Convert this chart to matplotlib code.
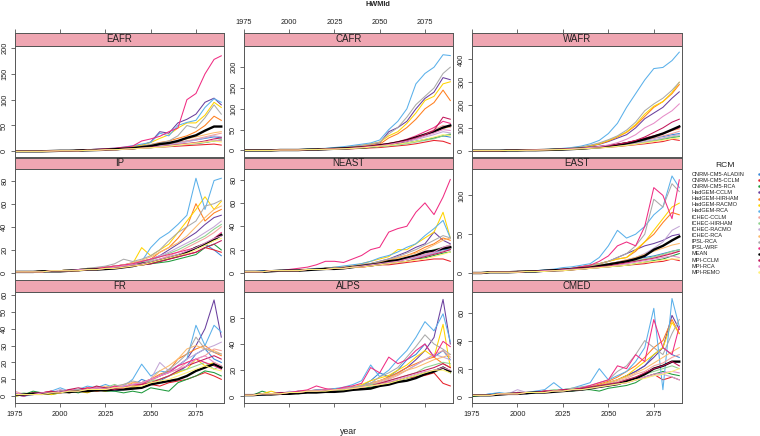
import matplotlib
matplotlib.use("Agg")
import matplotlib.pyplot as plt

plt.rcParams['font.family'] = ['Liberation Sans', 'DejaVu Sans']

YEARS = [1975, 1980, 1985, 1990, 1995, 2000, 2005, 2010, 2015, 2020, 2025, 2030,
         2035, 2040, 2045, 2050, 2055, 2060, 2065, 2070, 2075, 2080, 2085, 2089]

RCMS = ["CNRM-CM5-ALADIN", "CNRM-CM5-CCLM", "CNRM-CM5-RCA", "HadGEM-CCLM",
        "HadGEM-HIRHAM", "HadGEM-RACMO", "HadGEM-RCA", "ICHEC-CCLM",
        "ICHEC-HIRHAM", "ICHEC-RACMO", "ICHEC-RCA", "IPSL-RCA", "IPSL-WRF",
        "MEAN", "MPI-CCLM", "MPI-RCA", "MPI-REMO"]

COLORS = ['#3A87D8', '#E8202A', '#1E9A3C', '#6A3F9E', '#FF7F1E', '#FFD400',
          '#5AB0EA', '#F4A19A', '#8ED28E', '#C3A6D6', '#FDBA6B', '#AAAAAA',
          '#F02C82', '#000000', '#C2185B', '#E68CC8', '#FFF176']

EAFR = [
    [0,0,0,0,0.5,1,1,2,2,3,3,4,5,7,9,11,13,15,17,20,22,25,28,26],
    [0,0,0,0,0.5,1,1,1,2,2,3,3,4,5,6,7,8,9,10,11,12,13,14,12],
    [0,0,0,0,0.5,1,1,1,2,2,3,3,4,5,6,7,9,10,12,14,15,17,20,22],
    [0,0,0,0,0.5,1,1,2,3,3,4,5,7,9,12,18,38,35,55,62,72,95,103,90],
    [0,0,0,0,0.5,1,1,2,2,3,4,5,6,8,10,13,17,20,25,30,38,50,68,60],
    [0,0,0,0,0.5,1,1,2,3,3,4,5,7,9,12,17,25,32,45,55,55,70,95,85],
    [0,0,0,0,0.5,1,1,2,3,4,5,6,8,11,14,17,35,30,50,56,60,85,102,95],
    [0,0,0,0,0.5,1,1,1,2,2,3,4,5,6,8,10,12,14,17,20,24,28,32,35],
    [0,0,0,0,0.5,1,1,1,2,2,3,3,4,5,6,7,8,10,12,14,16,18,20,22],
    [0,0,0,0,0.5,1,1,1,2,2,3,4,5,6,7,9,11,13,15,18,22,26,30,28],
    [0,0,0,0,0.5,1,1,2,2,3,3,4,5,7,9,11,13,16,20,24,28,32,36,38],
    [0,0,0,0,0.5,1,1,2,2,3,4,5,6,8,10,13,16,20,30,50,45,65,90,72],
    [0,0,0,0,0.5,1,1,2,3,4,5,6,8,10,20,24,29,38,45,100,112,150,178,185],
    [0,0,0,0,0.5,1,1,1.5,2,2.5,3,4,5,6,8,10,14,16,20,26,31,40,48,48],
    [0,0,0,0,0.5,1,1,1,2,2,3,3,4,5,6,8,9,11,13,15,17,20,24,26],
    [0,0,0,0,0.5,1,1,1,2,2,3,3,4,5,6,7,9,10,12,14,16,18,22,20],
    [0,0,0,0,0.5,1,1,1,2,2,3,3,4,5,6,7,8,10,12,14,16,18,20,18],
]

CAFR = [
    [0,0,0,0,1,1,1,2,2,3,3,4,5,6,8,10,12,15,18,22,26,30,35,32],
    [0,0,0,0,1,1,1,2,2,2,3,3,4,5,6,7,9,11,13,16,20,24,22,16],
    [0,0,0,0,1,1,1,2,2,3,3,4,5,6,8,10,12,15,18,22,26,30,35,38],
    [0,0,0,0,1,1,2,2,3,4,5,7,9,12,15,18,45,55,70,100,125,140,175,170],
    [0,0,0,0,1,1,1,2,3,3,4,6,8,10,13,15,30,40,55,75,100,115,145,120],
    [0,0,0,0,1,1,2,2,3,4,5,7,9,12,16,20,35,45,65,90,120,130,160,165],
    [0,0,0,0,1,1,2,3,4,5,7,9,12,15,18,25,50,70,100,160,185,200,230,228],
    [0,0,0,0,1,1,1,2,2,3,4,5,6,8,10,12,15,20,25,32,40,50,60,55],
    [0,0,0,0,1,1,1,2,2,3,3,4,5,6,7,9,11,13,16,20,24,28,35,40],
    [0,0,0,0,1,1,1,2,2,3,4,5,6,7,9,11,14,17,21,26,32,38,45,42],
    [0,0,0,0,1,1,1,2,3,3,4,5,7,9,11,14,17,21,26,32,38,45,52,58],
    [0,0,0,0,1,1,2,2,3,4,5,7,9,12,15,20,40,55,80,110,130,150,185,200],
    [0,0,0,0,1,1,1,2,3,3,4,5,7,9,11,14,17,21,27,35,45,55,70,65],
    [0,0,0,0,1,1,1,2,2,3,4,5,6,7,9,12,15,19,24,31,38,45,55,60],
    [0,0,0,0,1,1,1,2,2,3,4,5,6,8,10,12,15,19,24,30,38,48,80,75],
    [0,0,0,0,1,1,1,2,2,3,3,4,5,7,9,11,14,18,22,28,35,42,50,48],
    [0,0,0,0,1,1,1,2,2,3,3,4,5,6,8,10,12,15,18,22,27,32,38,35],
]

WAFR = [
    [0,0,0,0,1,1,2,2,3,4,5,7,9,12,15,20,25,30,38,45,55,62,70,75],
    [0,0,0,0,1,1,2,2,3,4,5,6,8,10,12,15,18,22,26,30,35,40,50,45],
    [0,0,0,0,1,1,2,2,3,4,5,6,8,10,13,16,20,24,30,36,42,50,58,62],
    [0,0,0,0,1,2,2,3,4,6,8,10,14,20,28,40,55,70,100,140,165,190,230,258],
    [0,0,0,0,1,2,2,3,4,6,8,11,15,22,30,42,60,80,110,150,190,215,250,290],
    [0,0,0,0,1,2,2,3,4,6,8,11,15,22,30,45,62,82,115,160,195,215,255,300],
    [0,0,0,0,1,2,3,4,5,7,10,14,20,30,45,75,120,190,250,310,360,365,395,432],
    [0,0,0,0,1,1,2,2,3,4,5,7,9,12,15,19,24,30,38,46,55,65,75,85],
    [0,0,0,0,1,1,2,2,3,4,5,6,8,10,13,16,20,25,30,36,44,52,60,65],
    [0,0,0,0,1,1,2,2,3,4,5,6,8,10,13,17,21,26,32,40,48,56,65,70],
    [0,0,0,0,1,1,2,3,4,5,6,8,10,13,17,22,28,35,44,55,65,75,88,95],
    [0,0,0,0,1,2,2,3,4,6,8,12,16,24,34,48,65,90,125,175,205,230,265,300],
    [0,0,0,0,1,1,2,3,4,5,6,8,10,13,17,22,28,35,44,55,65,75,90,100],
    [0,0,0,0,1,1,2,2,3,4,5,7,9,12,16,20,26,32,40,50,62,75,92,106],
    [0,0,0,0,1,1,2,3,4,5,6,8,10,13,17,22,28,35,45,60,80,100,125,138],
    [0,0,0,0,1,1,2,3,4,5,6,8,10,14,18,25,35,50,70,100,120,150,175,205],
    [0,0,0,0,1,1,2,2,3,4,5,6,8,10,12,15,19,23,28,34,40,46,52,55],
]

IP = [
    [1,1,1,2,2,2,2,3,3,4,4,5,6,7,8,10,12,14,16,18,22,25,20,15],
    [1,1,1,1,2,2,2,2,3,3,4,4,5,6,7,8,10,12,14,16,18,22,20,18],
    [1,1,1,1,2,2,2,2,3,3,4,5,5,6,7,8,9,10,12,14,16,22,25,20],
    [1,1,1,2,2,2,3,3,3,4,5,6,7,9,10,12,15,20,25,30,35,42,48,50],
    [1,1,1,2,2,2,3,3,4,4,5,6,7,8,10,12,18,22,30,40,60,45,52,55],
    [1,1,1,2,2,2,3,3,3,4,5,6,7,8,22,15,20,25,35,45,55,66,55,62],
    [1,1,1,2,2,2,3,3,4,4,5,6,7,8,10,22,30,35,42,50,82,55,80,82],
    [1,1,1,1,2,2,2,3,3,4,4,5,6,7,8,10,12,15,18,22,26,30,35,40],
    [1,1,1,1,2,2,2,3,3,4,4,5,6,7,9,11,14,17,20,24,28,32,38,42],
    [1,1,1,1,2,2,2,3,3,4,5,6,7,8,10,12,15,18,22,26,30,35,40,45],
    [1,1,1,2,2,2,3,3,4,4,5,6,7,9,11,14,18,22,26,32,40,48,55,58],
    [1,1,1,2,2,2,3,3,4,5,6,8,12,10,12,15,20,28,35,40,45,58,60,63],
    [1,1,1,1,2,2,2,3,3,4,5,6,7,8,10,12,14,16,18,20,22,25,30,35],
    [1,1,1,1.5,1.5,1.5,2,2.5,3,3,3.5,4,5,6,8,9,11,13,15,18,22,25,29,33],
    [1,1,1,1,2,2,2,2,3,3,4,4,5,6,7,8,10,12,14,16,18,22,25,28],
    [1,1,1,1,2,2,2,3,3,3,4,5,6,7,8,10,12,14,16,19,22,26,30,32],
    [1,1,1,1,2,2,2,2,3,3,4,4,5,6,7,9,11,13,15,17,20,24,28,30],
]

NEAST = [
    [1,1,2,2,2,2,3,3,3,4,4,5,6,7,7,8,9,10,12,13,15,17,20,20],
    [1,1,1,2,2,2,2,3,3,3,4,4,5,5,6,7,7,8,9,10,11,12,12,10],
    [1,1,1,2,2,2,2,3,3,3,4,4,5,6,6,7,8,9,10,12,13,15,17,18],
    [1,1,1,2,2,2,3,3,3,4,4,5,6,7,8,10,12,15,18,22,25,35,28,25],
    [1,1,1,2,2,2,3,3,3,4,4,5,6,7,8,9,11,13,15,18,22,25,30,28],
    [1,1,1,2,2,2,3,3,3,4,5,5,6,8,10,12,14,20,20,25,30,35,52,30],
    [1,1,1,2,2,3,3,3,4,4,5,6,7,8,10,13,15,18,22,25,32,38,45,30],
    [1,1,1,2,2,2,2,3,3,3,4,4,5,6,7,8,9,10,12,14,16,18,22,24],
    [1,1,1,2,2,2,2,3,3,3,4,4,5,6,7,8,9,11,13,15,17,20,22,24],
    [1,1,1,2,2,2,2,3,3,3,4,4,5,6,7,8,9,10,12,13,15,17,19,20],
    [1,1,1,2,2,2,3,3,3,4,4,5,6,7,8,9,11,13,15,17,20,24,28,30],
    [1,1,1,2,2,2,3,3,3,4,4,5,6,7,8,10,12,14,17,20,24,28,32,30],
    [1,1,1,2,2,3,4,5,7,10,10,9,12,15,20,22,35,38,40,52,60,50,65,80],
    [1,1,1,1.5,2,2,2,2.5,3,3.5,3.5,4,5,6,7,8,10,11,13,15,18,19,21,22],
    [1,1,1,2,2,2,2,3,3,3,4,4,5,5,6,7,8,9,10,12,14,16,18,20],
    [1,1,1,2,2,2,2,3,3,3,4,4,5,6,7,8,9,10,12,14,16,18,22,24],
    [1,1,1,2,2,2,2,3,3,3,4,4,5,5,6,7,8,9,10,11,12,14,16,18],
]

EAST = [
    [0,0,1,1,1,1,2,2,3,4,5,6,7,8,10,12,14,16,18,20,22,25,28,30],
    [0,0,1,1,1,1,2,2,2,3,3,4,5,6,7,8,9,10,11,12,14,15,18,16],
    [0,0,1,1,1,1,2,2,3,3,4,5,5,6,7,8,9,10,12,14,16,18,22,25],
    [0,0,1,1,1,2,2,3,3,4,5,6,8,10,12,15,20,25,30,35,38,42,48,50],
    [0,0,1,1,1,2,2,3,3,4,5,6,8,10,12,15,18,20,28,40,50,65,78,75],
    [0,0,1,1,1,2,2,3,3,4,5,6,8,10,12,15,18,20,30,40,55,70,85,90],
    [0,0,1,1,1,2,2,3,4,5,7,8,10,12,20,35,55,45,50,60,75,85,125,110],
    [0,0,1,1,1,1,2,2,3,3,4,5,6,7,8,10,12,14,16,18,20,23,26,28],
    [0,0,1,1,1,1,2,2,3,3,4,5,6,7,8,10,12,14,16,18,21,24,28,30],
    [0,0,1,1,1,1,2,2,3,3,4,5,6,7,9,11,14,17,20,25,32,40,55,60],
    [0,0,1,1,1,1,2,2,3,4,4,5,6,8,10,12,14,17,20,24,28,32,36,38],
    [0,0,1,1,1,2,2,3,3,4,5,6,8,10,12,15,20,25,35,50,95,85,115,105],
    [0,0,1,1,1,2,2,3,3,4,5,6,8,10,15,22,35,40,35,60,110,100,70,120],
    [0,0,1,1,1,1.5,2,2,3,3.5,4,5,6,7,9,11,13,15,18,22,30,35,42,47],
    [0,0,1,1,1,1,2,2,3,3,4,5,6,7,8,9,11,13,15,17,19,22,25,28],
    [0,0,1,1,1,1,2,2,3,3,4,5,5,6,7,8,10,12,14,16,18,20,22,20],
    [0,0,1,1,1,1,2,2,2,3,3,4,5,6,7,8,9,10,12,14,15,17,18,18],
]

FR = [
    [1,0,2,1,2,3,2,4,3,5,4,3,4,6,10,8,9,12,14,18,25,28,22,20],
    [1,1,2,2,1,3,3,4,5,3,4,5,4,6,5,7,6,8,9,10,12,14,12,10],
    [0,1,3,2,1,2,3,2,4,4,3,3,2,3,2,5,4,3,8,10,12,15,14,12],
    [1,1,1,2,2,3,3,4,3,5,4,5,6,5,8,10,12,15,18,22,30,40,57,35],
    [1,1,2,1,2,3,2,3,4,3,4,6,5,8,8,10,13,15,22,25,28,30,26,24],
    [0,1,1,2,1,2,3,3,2,4,3,5,4,5,7,8,10,12,14,16,22,18,20,18],
    [1,0,1,2,3,5,3,4,6,5,7,5,6,10,19,12,15,14,18,22,42,30,42,38],
    [3,1,1,2,2,3,4,3,4,5,4,6,5,6,8,9,12,14,16,20,22,24,28,27],
    [1,2,1,2,2,3,2,3,4,6,5,7,5,6,7,9,10,12,15,16,18,20,16,18],
    [2,1,1,1,2,4,3,4,3,5,4,5,6,7,8,10,20,15,18,22,25,28,30,32],
    [1,1,2,2,3,2,3,3,5,4,6,5,7,8,8,10,15,18,22,28,30,28,27,25],
    [1,1,2,2,2,3,3,4,4,5,5,6,7,9,8,10,12,16,20,25,35,28,26,25],
    [1,0,2,2,3,2,4,3,5,5,4,6,5,7,7,10,12,14,18,20,22,20,18,16],
    [1,1,1.5,1.5,2,2.5,2.5,3,3,3.5,3.5,4,4,4.5,5,7,8,9,10,12,15,17,19,17],
    [1,1,1,2,3,2,4,5,4,6,5,4,5,6,7,8,10,12,15,18,20,22,24,22],
    [2,1,1,2,2,3,3,3,4,5,4,5,6,7,8,10,12,14,16,18,22,24,20,18],
    [1,1,1,1,2,2,3,3,4,4,4,5,5,6,6,8,9,10,12,14,16,18,16,15],
]

ALPS = [
    [1,1,2,2,2,3,3,4,4,5,5,6,7,8,12,18,15,20,28,32,40,30,35,28],
    [1,1,2,2,3,3,4,4,5,5,6,6,7,8,9,10,11,12,14,15,16,18,10,8],
    [1,1,4,2,2,3,2,3,4,4,5,5,6,6,7,9,10,12,14,16,18,20,22,18],
    [1,1,1,2,2,3,3,4,4,5,5,6,7,8,10,12,14,18,22,28,35,45,74,40],
    [1,1,2,2,2,3,3,4,4,5,5,6,7,8,10,12,15,18,22,25,28,30,25,22],
    [1,1,2,4,2,3,3,4,4,5,5,6,7,9,12,14,16,20,24,30,35,30,55,22],
    [1,1,1,2,3,3,4,4,5,5,6,7,9,12,24,15,20,28,35,45,57,50,63,42],
    [1,1,2,2,2,3,3,4,4,5,5,6,7,8,9,11,13,16,20,24,28,32,35,30],
    [1,1,2,2,2,3,3,4,4,5,5,6,7,8,9,10,12,14,16,18,22,24,26,25],
    [1,1,2,2,2,4,3,4,4,5,5,6,7,8,10,12,14,17,20,24,28,32,30,28],
    [1,1,2,2,2,3,3,4,4,5,5,6,7,8,10,12,14,17,20,22,25,28,30,32],
    [1,1,2,2,2,3,3,4,4,5,5,6,7,8,10,15,18,22,30,38,47,40,36,32],
    [1,1,2,2,3,3,4,5,8,6,5,7,8,10,22,18,30,25,28,35,40,30,42,38],
    [1,1,1.5,1.5,2,2,2.5,3,3,3.5,3.5,4,5,5.5,6,8,9,11,12,14,17,19,22,19],
    [1,1,2,2,2,3,3,4,4,5,5,6,6,7,8,10,12,14,16,18,20,22,25,22],
    [1,1,2,2,2,3,3,4,4,5,5,6,6,7,8,9,11,13,15,17,19,20,22,20],
    [1,1,2,2,2,3,3,4,4,4,5,5,6,7,8,9,10,12,14,16,18,20,20,18],
]

CMED = [
    [1,1,2,2,2,3,2,3,3,4,5,5,6,7,8,10,12,15,18,22,30,35,30,28],
    [1,1,1,2,2,2,3,3,3,4,4,5,5,6,7,8,9,10,12,14,16,12,14,12],
    [0,1,1,2,2,2,3,3,4,4,5,4,5,5,4,6,7,8,10,14,16,18,16,15],
    [1,1,1,2,2,3,3,3,4,4,5,5,6,7,8,10,12,15,18,22,28,35,58,48],
    [1,1,1,2,2,3,3,3,4,4,5,5,6,7,9,11,14,18,22,28,35,40,55,45],
    [1,1,1,2,2,2,3,3,4,4,5,5,6,7,8,10,12,15,20,25,30,35,53,45],
    [1,1,2,3,2,3,3,4,5,10,5,6,8,10,20,12,15,18,25,35,63,5,70,50],
    [1,1,1,2,2,2,3,3,4,4,5,5,6,7,8,9,11,13,16,18,22,24,28,30],
    [1,1,1,2,2,3,3,3,4,5,5,6,6,7,8,9,10,12,14,16,18,20,22,20],
    [1,1,1,2,2,5,3,3,4,4,5,5,6,6,7,8,9,10,12,14,15,16,14,12],
    [1,1,1,2,2,2,3,3,4,4,5,5,6,7,8,10,12,14,17,20,24,28,32,35],
    [1,1,1,2,2,3,3,3,4,4,5,6,7,8,10,12,18,22,30,40,35,30,45,55],
    [1,1,1,2,2,3,3,3,4,4,5,5,6,8,10,12,22,20,30,25,55,35,30,50],
    [1,1,1,1.5,2,2,2.5,3,3,3.5,4,4.5,5,6,7,8,9,11,13,16,20,22,25,25],
    [1,1,1,2,2,2,3,3,4,4,5,5,6,7,8,9,10,12,14,17,20,22,25,22],
    [1,1,1,2,2,2,3,3,3,4,4,5,5,6,7,8,9,10,12,14,16,17,18,17],
    [1,1,1,2,2,2,3,3,3,4,4,5,5,6,7,8,9,10,12,13,15,16,18,20],
]

REGIONS = [["EAFR", "CAFR", "WAFR"], ["IP", "NEAST", "EAST"], ["FR", "ALPS", "CMED"]]
DATA = {"EAFR": EAFR, "CAFR": CAFR, "WAFR": WAFR, "IP": IP, "NEAST": NEAST,
        "EAST": EAST, "FR": FR, "ALPS": ALPS, "CMED": CMED}
YLIMS = {"EAFR": (-12, 204), "CAFR": (-17, 251), "WAFR": (-30, 459),
         "IP": (-6, 90), "NEAST": (-6, 89), "EAST": (-9, 134),
         "FR": (-4, 62), "ALPS": (-5, 80), "CMED": (-4.5, 75)}
YTICKS = {"EAFR": [0, 50, 100, 150, 200], "CAFR": [0, 50, 100, 150, 200],
          "WAFR": [0, 100, 200, 300, 400], "IP": [0, 20, 40, 60, 80],
          "NEAST": [0, 20, 40, 60, 80], "EAST": [0, 50, 100],
          "FR": [0, 10, 20, 30, 40, 50, 60], "ALPS": [0, 20, 40, 60],
          "CMED": [0, 20, 40, 60]}
XTICKS = [1975, 2000, 2025, 2050, 2075]
XLIM = (1975, 2090.5)

for name, rows in DATA.items():
    for i, r in enumerate(rows):
        if len(r) != len(YEARS):
            raise ValueError(f"{name} row {i} has {len(r)} values")

W, H = 760, 436
STRIP = '#EFA6B2'
FRAME = '#555555'
TXT = '#222222'

# panel geometry in pixels
COLS = [(15, 224), (244, 453), (472, 682)]
ROWS = [(33, 46, 157.5), (157.5, 169, 280), (280, 291.5, 403)]


def box(x0, y0, x1, y1):
    return [x0 / W, 1 - y1 / H, (x1 - x0) / W, (y1 - y0) / H]


fig = plt.figure(figsize=(W / 100, H / 100), dpi=100)

for r, (st, pt, pb) in enumerate(ROWS):
    for c, (x0, x1) in enumerate(COLS):
        name = REGIONS[r][c]
        ax = fig.add_axes(box(x0, pt, x1, pb))
        for vals, col, lab in zip(DATA[name], COLORS, RCMS):
            lw = 1.7 if lab == "MEAN" else 0.75
            ax.plot(YEARS, vals, color=col, lw=lw, solid_joinstyle='round')
        ax.set_xlim(*XLIM)
        ax.set_ylim(*YLIMS[name])
        ax.set_yticks(YTICKS[name])
        ax.set_xticks(XTICKS)
        ax.tick_params(axis='y', labelrotation=90, labelsize=5.3, length=2.9,
                       width=0.6, pad=2, color=FRAME, labelcolor=TXT)
        for t in ax.get_yticklabels():
            t.set_va('center')
        if r == 2:
            ax.tick_params(axis='x', labelsize=5.3, length=2.9, width=0.6,
                           pad=2.5, color=FRAME, labelcolor=TXT,
                           labelbottom=(c != 1))
        else:
            ax.tick_params(axis='x', bottom=False, labelbottom=False)
        for s in ax.spines.values():
            s.set_color(FRAME)
            s.set_linewidth(0.7)

        sax = fig.add_axes(box(x0, st, x1, pt))
        sax.set_facecolor(STRIP)
        sax.set_xlim(*XLIM)
        sax.set_yticks([])
        sax.text(0.5, 0.5, name, transform=sax.transAxes, ha='center',
                 va='center', fontsize=7, color=TXT)
        if r == 0:
            sax.set_xticks(XTICKS)
            sax.xaxis.set_ticks_position('top')
            sax.tick_params(axis='x', labelsize=5.3, length=2.9, width=0.6,
                            pad=2.5, color=FRAME, labelcolor=TXT,
                            labeltop=(c == 1), labelbottom=False, bottom=False)
        else:
            sax.set_xticks([])
        for s in sax.spines.values():
            s.set_color(FRAME)
            s.set_linewidth(0.7)

# titles
fig.text(378 / W, 1 - 5 / H, "HWMId", ha='center', va='center',
         fontsize=5.3, fontweight='bold', color=TXT)
fig.text(348.5 / W, 1 - 431 / H, "year", ha='center', va='center',
         fontsize=6.3, color=TXT)

# legend
lax = fig.add_axes([0, 0, 1, 1])
lax.set_xlim(0, W)
lax.set_ylim(H, 0)
lax.axis('off')
lax.text(724.5, 165, "RCM", ha='center', va='center', fontsize=6.1, color=TXT)
for i, (lab, col) in enumerate(zip(RCMS, COLORS)):
    y = 174 + i * 6.15
    lax.text(691.5, y, lab, ha='left', va='center', fontsize=4.1, color=TXT)
    lax.plot([758.5], [y], 'o', color=col, markersize=1.8, markeredgewidth=0)

fig.savefig("out.png", dpi=100)
